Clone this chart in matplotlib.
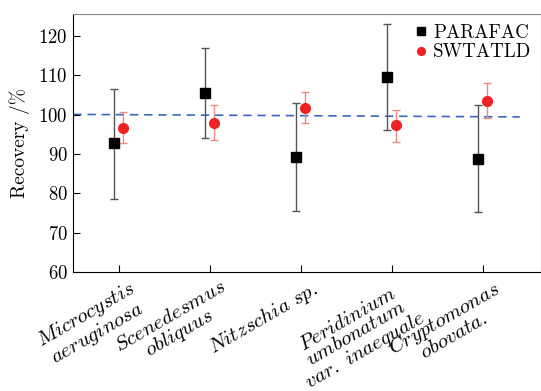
import matplotlib
matplotlib.use("Agg")
import matplotlib.pyplot as plt
import matplotlib.transforms as mtransforms
import numpy as np

plt.rcParams['font.family'] = 'serif'
plt.rcParams['font.serif'] = ['cmr10']
plt.rcParams['mathtext.fontset'] = 'cm'
plt.rcParams['axes.formatter.use_mathtext'] = True

species = [
    r"$\mathit{Microcystis}$" + "\n" + r"$\mathit{aeruginosa}$",
    r"$\mathit{Scenedesmus}$" + "\n" + r"$\mathit{obliquus}$",
    r"$\mathit{Nitzschia\ sp.}$",
    r"$\mathit{Peridinium}$" + "\n" + r"$\mathit{umbonatum}$" + "\n" + r"$\mathit{var.\ inaequale}$",
    r"$\mathit{Cryptomonas}$" + "\n" + r"$\mathit{obovata.}$",
]

parafac = [92.7, 105.5, 89.3, 109.5, 88.8]
parafac_lo = [78.7, 94.0, 75.6, 96.1, 75.2]
parafac_hi = [106.6, 117.0, 102.9, 123.0, 102.4]

swtatld = [96.7, 98.0, 101.8, 97.3, 103.6]
swtatld_lo = [92.7, 93.6, 97.8, 93.2, 99.3]
swtatld_hi = [100.6, 102.5, 105.7, 101.3, 108.0]

ref_line = [100.1, 99.45]   # dashed reference line, left and right ends

x = np.arange(1, len(species) + 1)

fig = plt.figure(figsize=(5.41, 3.91), dpi=100)
ax = fig.add_axes([0.1355, 0.304, 0.864, 0.660])

ax.plot([0.5, 5.41], ref_line, linestyle=(0, (5, 3.5)), color='#3a66c4', linewidth=1.2, zorder=1)

p = np.array(parafac)
s = np.array(swtatld)
ax.errorbar(x - 0.05, p, yerr=[p - np.array(parafac_lo), np.array(parafac_hi) - p],
            fmt='none', ecolor='#555555', elinewidth=1.0, capsize=3, capthick=1.0, zorder=2)
ax.errorbar(x + 0.05, s, yerr=[s - np.array(swtatld_lo), np.array(swtatld_hi) - s],
            fmt='none', ecolor='#f08a80', elinewidth=1.0, capsize=3, capthick=1.0, zorder=2)
ax.plot(x - 0.05, p, 's', color='black', markersize=6.5, label='PARAFAC', zorder=3)
ax.plot(x + 0.05, s, 'o', color='#ee2222', markersize=7, label='SWTATLD', zorder=3)

ax.set_xlim(0.5, 5.64)
ax.set_ylim(60, 125.6)
ax.set_yticks([60, 70, 80, 90, 100, 110, 120])
ax.tick_params(axis='both', direction='in', length=5)
ax.tick_params(axis='x', pad=4)
ax.tick_params(axis='y', pad=4, labelsize=13.5)
ax.set_xticks(x)
ax.set_xticklabels(species, rotation=30, ha='right', va='top', rotation_mode='anchor',
                   multialignment='center', fontsize=15, linespacing=0.95)
shift = mtransforms.ScaledTranslation(0.10, 0, fig.dpi_scale_trans)
for lab in ax.get_xticklabels():
    lab.set_transform(lab.get_transform() + shift)
ax.set_ylabel('Recovery /%', fontsize=14, labelpad=6)

for side in ['top', 'right']:
    ax.spines[side].set_color('#888888')

ax.legend(loc='upper right', frameon=False, fontsize=13.7, handletextpad=0.1,
          borderaxespad=0.1, labelspacing=0.1, handlelength=1.0, markerscale=0.8)

fig.savefig('out.png', dpi=100)
